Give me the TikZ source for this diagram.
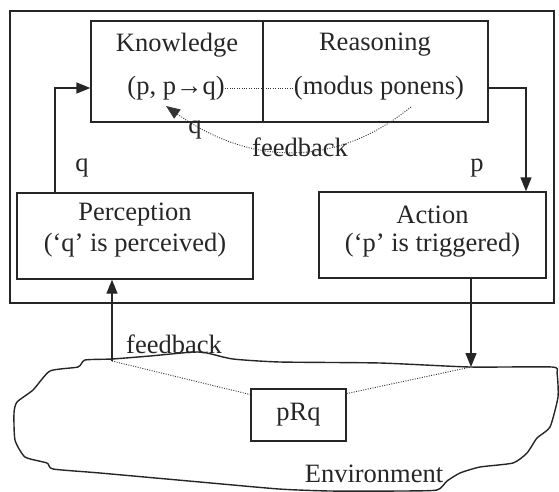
\documentclass[tikz,border=0pt]{standalone}
\usepackage{fontspec}
\setmainfont{Liberation Serif}
\usetikzlibrary{arrows.meta,calc}
\begin{document}
\begin{tikzpicture}[x=1pt,y=-1pt,
  every node/.style={font=\fontsize{26.5}{30}\selectfont, text=black!85},
  box/.style={draw=black!85, line width=1.3pt, inner sep=0pt},
  txt/.style={inner sep=0pt},
  arr/.style={draw=black!85, line width=1.3pt, -{Triangle[length=14pt,width=11pt]}},
  dotline/.style={draw=black!80, line width=0.9pt, dash pattern=on 1pt off 1.4pt},
]
\useasboundingbox (0,0) rectangle (559,491);
% outer agent frame
\node[box, minimum width=544, minimum height=292] (agent) at (282,157) {};
% knowledge / reasoning
\node[box, minimum width=172, minimum height=101] (know) at (177,71.5) {};
\node[box, minimum width=225, minimum height=101] (reas) at (375.5,71.5) {};
\node[txt] (kt) at (177,45) {Knowledge};
\node[txt] (kd) at (176,88) {(p, p→q)};
\node[txt] (rt) at (375,45) {Reasoning};
\node[txt] (rd) at (379,88) {(modus ponens)};
\draw[dotline] (kd.east) -- (rd.west);
% perception / action
\node[box, minimum width=236, minimum height=86] (perc) at (135,236) {};
\node[txt] (pt) at (135,215) {Perception};
\node[txt] (pd) at (135,245) {(‘q’ is perceived)};
\node[box, minimum width=227, minimum height=86] (act) at (432.5,235) {};
\node[txt] (at) at (432.5,215) {Action};
\node[txt] (ad) at (432.5,245) {(‘p’ is triggered)};
% arrows inside agent
\draw[arr] ([xshift=-80pt]perc.north) |- ([yshift=-16.5pt]know.west);
\draw[arr] ([yshift=-16.5pt]reas.east) -| ([xshift=93.5pt]act.north);
\node[txt] (lq) at (82,168) {q};
\node[txt] (lp) at (477,168) {p};
% internal feedback
\coordinate (fbs) at (411,107);
\coordinate (fbe) at (166,106);
\draw[dotline, -{Triangle[length=14pt,width=11pt]}] (fbs) .. controls (330,172) and (245,162) .. (fbe);
\node[txt] (fbl) at (300,147) {feedback};
\node[txt] (fq) at (195,130) {q};
% environment
\draw[draw=black!85, line width=1.4pt] plot[smooth cycle, tension=0.35] coordinates {
  (85,360) (112,359) (150,356) (193,352) (207,353) (233,359) (280,362) (380,363)
  (470,367) (552,367) (557,373) (558,397) (550,427) (537,438) (527,453) (513,463)
  (480,467) (460,473) (447,481) (437,490) (400,491) (330,491) (279,489) (200,482)
  (100,473) (53,469) (47,463) (25,457) (15,440) (14,413) (17,402) (33,390) (50,371) (78,367)};
\node[txt] (envt) at (374,474) {Environment};
\coordinate (envL) at (112,361);
\coordinate (envR) at (471,367);
\node[box, minimum width=95, minimum height=52] (prq) at (298.5,415) {pRq};
\draw[dotline] (envL) -- (prq.157);
\draw[dotline] (prq.24) -- (envR);
\draw[arr] (envL) -- ([xshift=-23pt]perc.south);
\draw[arr] ([xshift=38.5pt]act.south) -- (envR);
\node[txt] (fbl2) at (174,344) {feedback};
\end{tikzpicture}
\end{document}
